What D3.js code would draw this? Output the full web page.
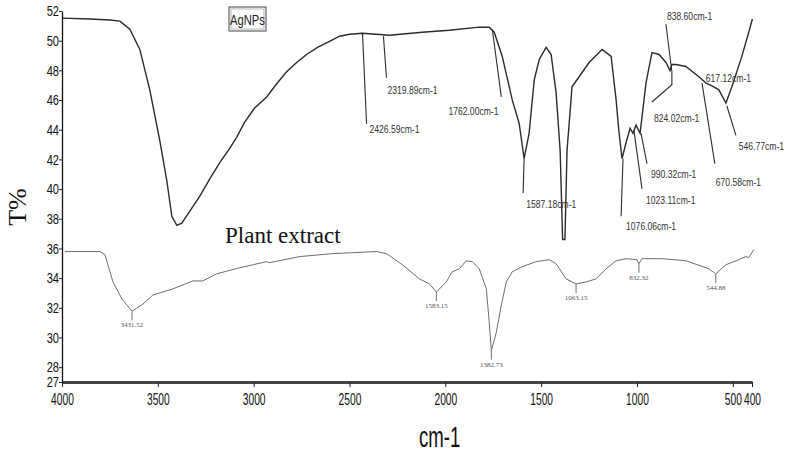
<!DOCTYPE html>
<html>
<head>
<meta charset="utf-8">
<script src="https://cdn.jsdelivr.net/npm/d3@7"></script>
<style>
  body { margin: 0; background: #fff; }
  svg { display: block; }
  .narrow { font-family: "Liberation Sans Narrow", "Arial Narrow", "Liberation Sans", sans-serif; }
</style>
</head>
<body>
<div id="chart"></div>
<script>
// tick values
const xTicks = [4000, 3500, 3000, 2500, 2000, 1500, 1000, 500, 400];
const yTicks = [27, 28, 30, 32, 34, 36, 38, 40, 42, 44, 46, 48, 50, 52];

// AgNPs spectrum [wavenumber, T%]
const agnps = [
  [4000,51.52],[3854,51.46],[3750,51.39],[3698,51.32],[3646,50.77],[3594,49.41],[3542,46.69],
  [3490,43.28],[3453,40.56],[3427,38.17],[3401,37.56],[3375,37.70],[3333,38.51],[3281,39.53],
  [3229,40.69],[3177,41.78],[3125,42.74],[3089,43.49],[3047,44.51],[2995,45.46],[2932,46.21],
  [2880,47.10],[2828,47.91],[2776,48.53],[2724,49.07],[2667,49.55],[2604,49.96],[2552,50.30],
  [2500,50.43],[2432,50.50],[2292,50.37],[2120,50.57],[1979,50.70],[1823,50.91],[1771,50.91],
  [1745,50.57],[1703,48.94],[1651,46.01],[1615,44.44],[1589,42.05],[1563,43.76],[1536,47.37],
  [1510,48.73],[1474,49.55],[1448,49.07],[1422,46.48],[1401,42.60],[1388,36.60],[1376,36.60],
  [1365,42.60],[1339,46.89],[1302,47.57],[1250,48.53],[1182,49.41],[1135,48.94],[1109,46.01],
  [1094,43.83],[1078,42.05],[1057,43.14],[1036,44.10],[1021,43.76],[1005,44.31],[984,43.76],
  [953,47.16],[922,49.20],[885,49.07],[849,48.53],[828,47.98],[818,48.39],[797,48.39],
  [745,48.26],[677,47.57],[641,47.16],[609,46.96],[573,46.69],[536,45.80],[505,46.89],
  [453,48.94],[417,50.57],[398,51.46]
];

// Plant extract spectrum [wavenumber, T%]
const plant = [
  [3984,35.79],[3802,35.79],[3776,35.58],[3734,33.74],[3687,32.59],[3635,31.77],[3578,32.25],
  [3526,32.86],[3422,33.27],[3318,33.81],[3266,33.81],[3193,34.29],[3073,34.70],[2932,35.11],
  [2917,35.04],[2760,35.45],[2589,35.65],[2359,35.79],[2307,35.65],[2224,34.90],[2135,33.95],
  [2083,33.61],[2047,33.06],[1995,33.74],[1964,34.43],[1927,34.63],[1891,35.17],[1859,35.11],
  [1823,34.63],[1786,33.27],[1771,31.02],[1760,29.11],[1734,30.34],[1708,32.18],[1682,33.74],
  [1651,34.43],[1599,34.77],[1526,35.11],[1458,35.24],[1422,34.97],[1370,33.95],[1318,33.61],
  [1266,33.74],[1214,33.95],[1161,34.63],[1109,35.17],[1057,35.31],[1000,35.24],[990,34.97],
  [974,35.31],[870,35.31],[745,35.17],[625,34.63],[589,34.29],[536,34.90],[469,35.24],
  [432,35.45],[417,35.38],[391,35.92]
];

// AgNPs peak labels: leader line and label anchor in [wavenumber, T%]
const agnpsPeaks = [
  { text: "2426.59cm-1", line: [[2432,50.45],[2411,44.4]], at: [2396,43.76] },
  { text: "2319.89cm-1", line: [[2323,50.3],[2307,47.5]], at: [2302,46.41] },
  { text: "1762.00cm-1", line: [[1755,50.77],[1708,46.21]], at: [1984,44.98] },
  { text: "1587.18cm-1", line: [[1589,42.05],[1594,39.74]], at: [1578,38.72] },
  { text: "1076.06cm-1", line: [[1073,42.05],[1083,38.17]], at: [1057,37.22] },
  { text: "1023.11cm-1", line: [[1016,43.96],[974,40.01]], at: [953,38.99] },
  { text: "990.32cm-1", line: [[979,43.76],[948,41.71]], at: [927,40.76] },
  { text: "838.60cm-1", line: [[849,51.11],[818,47.91]], at: [844,51.39] },
  { text: "824.02cm-1", line: [[818,47.91],[818,47.03],[922,45.87]], at: [911,44.51] },
  { text: "617.12cm-1", line: [], at: [641,47.23] },
  { text: "670.58cm-1", line: [[661,47.16],[594,41.71]], at: [589,40.22] },
  { text: "546.77cm-1", line: [[531,45.6],[484,43.62]], at: [469,42.6] }
];

// Plant extract peak labels [wavenumber, T%] of the minimum
const plantPeaks = [
  { text: "3431.52", at: [3635,31.77] },
  { text: "1583.15", at: [2047,33.06] },
  { text: "1382.73", at: [1760,29.11] },
  { text: "1063.15", at: [1318,33.61] },
  { text: "832.32", at: [990,34.97] },
  { text: "544.88", at: [589,34.29] }
];

const width = 788, height = 455;
const svg = d3.select("#chart").append("svg")
  .attr("width", width).attr("height", height)
  .style("background", "#fff");

const x = d3.scaleLinear().domain([4000, 400]).range([62, 752]);
const y = d3.scaleLinear().domain([27, 52]).range([382, 11]);

const line = d3.line().x(d => x(d[0])).y(d => y(d[1]));

// spectra
svg.append("path").datum(plant)
  .attr("d", line).attr("fill", "none")
  .attr("stroke", "#6e6e6e").attr("stroke-width", 1);

svg.append("path").datum(agnps)
  .attr("d", line).attr("fill", "none")
  .attr("stroke", "#2b2b2b").attr("stroke-width", 1.4);

// AgNPs leaders and labels
agnpsPeaks.forEach(p => {
  if (p.line.length) {
    svg.append("path").datum(p.line)
      .attr("d", line).attr("fill", "none")
      .attr("stroke", "#2b2b2b").attr("stroke-width", 1.1);
  }
  svg.append("text").attr("class", "narrow")
    .attr("transform", `translate(${x(p.at[0])},${y(p.at[1])}) scale(0.78,1)`)
    .attr("font-size", 11).attr("fill", "#333")
    .text(p.text);
});

// plant extract leaders and labels
plantPeaks.forEach(p => {
  const px = x(p.at[0]), py = y(p.at[1]);
  svg.append("line")
    .attr("x1", px).attr("x2", px).attr("y1", py).attr("y2", py + 9)
    .attr("stroke", "#6e6e6e").attr("stroke-width", 1);
  svg.append("text")
    .attr("x", px).attr("y", py + 16)
    .attr("text-anchor", "middle")
    .attr("font-family", "Liberation Serif, serif")
    .attr("font-size", 7).attr("fill", "#555")
    .text(p.text);
});

// axes
const gx = svg.append("g").attr("transform", `translate(0,${y(27)})`)
  .call(d3.axisBottom(x).tickValues(xTicks).tickFormat(d3.format("d"))
    .tickSize(5).tickSizeOuter(0).tickPadding(6));
gx.select(".domain").attr("stroke", "#444").attr("stroke-width", 3);
gx.selectAll(".tick line").attr("stroke", "#222");
gx.selectAll(".tick text")
  .attr("class", "narrow").attr("font-size", 16).attr("fill", "#111")
  .attr("transform", "scale(0.64,1.05)");

const gy = svg.append("g").attr("transform", `translate(${x(4000)},0)`)
  .call(d3.axisLeft(y).tickValues(yTicks).tickSize(3).tickSizeOuter(0).tickPadding(1));
gy.select(".domain").attr("stroke", "#111").attr("stroke-width", 1.3);
gy.selectAll(".tick line").attr("stroke", "#222");
gy.selectAll(".tick text")
  .attr("class", "narrow").attr("font-size", 15).attr("fill", "#111")
  .attr("transform", "scale(0.74,1)");

// titles
svg.append("text").attr("class", "narrow")
  .attr("transform", `translate(${x(2030)},447) scale(0.62,1)`)
  .attr("text-anchor", "middle").attr("font-size", 30).attr("fill", "#111")
  .text("cm-1");

svg.append("text")
  .attr("transform", "translate(26,207) rotate(-90)")
  .attr("text-anchor", "middle")
  .attr("font-family", "Liberation Serif, serif")
  .attr("font-size", 26).attr("fill", "#111")
  .text("T%");

svg.append("text")
  .attr("x", 225).attr("y", 243)
  .attr("font-family", "Liberation Serif, serif")
  .attr("font-size", 23).attr("fill", "#111")
  .text("Plant extract");

// AgNPs legend box
const lg = svg.append("g").attr("transform", "translate(229,7)");
lg.append("rect").attr("width", 37).attr("height", 24)
  .attr("fill", "#fff").attr("stroke", "#444").attr("stroke-width", 1);
lg.append("rect").attr("x", 2).attr("y", 2).attr("width", 33).attr("height", 20)
  .attr("fill", "none").attr("stroke", "#888").attr("stroke-width", 0.6);
lg.append("text").attr("class", "narrow")
  .attr("transform", "translate(18.5,17.5) scale(0.8,1)")
  .attr("text-anchor", "middle")
  .attr("font-size", 14).attr("fill", "#222")
  .text("AgNPs");
</script>
</body>
</html>
